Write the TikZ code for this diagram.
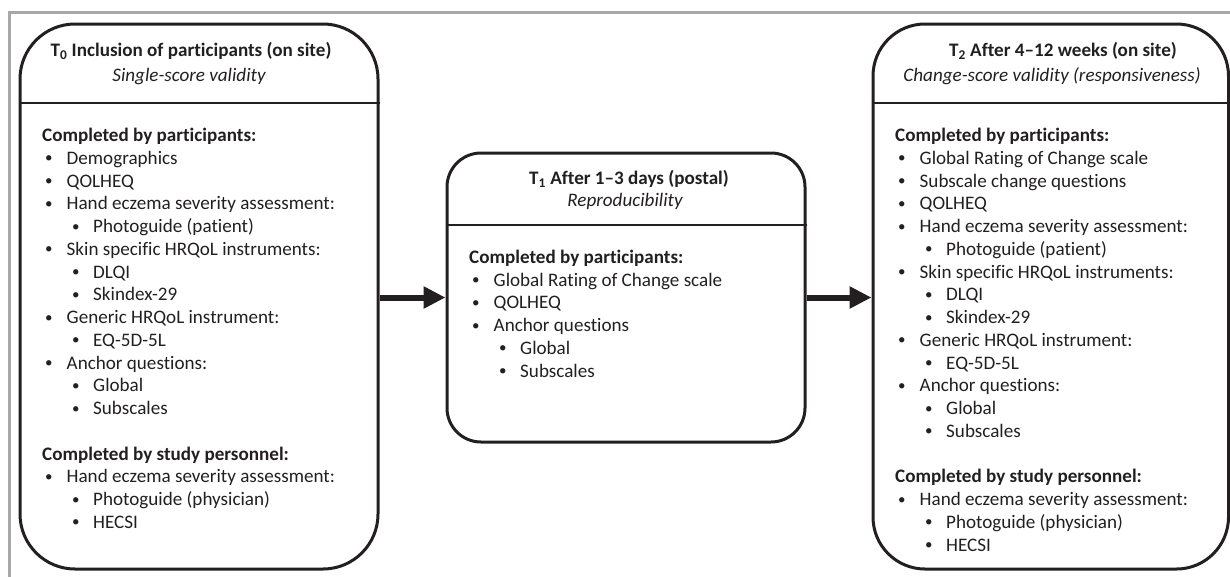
\documentclass[tikz,border=0pt]{standalone}
\usepackage{fontspec}
\setmainfont{Carlito}[Ligatures={TeX,NoCommon}]
\usetikzlibrary{arrows.meta}
\definecolor{framegray}{HTML}{A8A8A8}
\definecolor{ink}{HTML}{231F20}
\tikzset{
  box/.style={draw=ink, line width=3pt, inner sep=0pt},
  divider/.style={draw=ink, line width=2pt},
  txt/.style={anchor=base west, inner sep=0pt, text=ink, font=\fontsize{19.1}{22.75}\selectfont},
  bhead/.style={txt, font=\fontsize{19.1}{22.75}\selectfont\bfseries},
  ttl/.style={anchor=base, inner sep=0pt, text=ink, font=\fontsize{19.1}{22.75}\selectfont\bfseries},
  subttl/.style={anchor=base, inner sep=0pt, text=ink, font=\fontsize{19.1}{22.75}\selectfont\itshape},
  flow/.style={draw=ink, line width=6pt, -{Triangle[length=22pt,width=21pt]}},
}
\newcommand\smbul{\raisebox{1.4pt}{\fontsize{15}{15}\selectfont •}}
\newcommand\bodyhead[5]{\node[bhead] (#1) at ({#2},{#3+22.75*#4}) {#5};}
\newcommand\itemA[5]{\node[txt] (#1) at ({#2+3},{#3+22.75*#4}) {\makebox[21.5pt][l]{\smbul}#5};}
\newcommand\itemB[5]{\node[txt] (#1) at ({#2+30},{#3+22.75*#4}) {\makebox[21pt][l]{\smbul}#5};}
\begin{document}
\begin{tikzpicture}[x=1pt,y=-1pt]
\useasboundingbox (0,0) rectangle (1230,576);
% outer frame
\draw[framegray, line width=2.5pt] (9.5,580) -- (9.5,12.5) -- (1240,12.5);

% boxes
\node[box, rounded corners=55pt, minimum width=358pt, minimum height=545pt] (b0) at (199,296.5) {};
\node[box, rounded corners=34pt, minimum width=358pt, minimum height=289pt] (b1) at (626,297.5) {};
\node[box, rounded corners=52pt, minimum width=355.5pt, minimum height=545pt] (b2) at (1050.75,296.5) {};

\draw[divider] (b0.west |- 0,103) -- (b0.east |- 0,103);
\draw[divider] (b1.west |- 0,225) -- (b1.east |- 0,225);
\draw[divider] (b2.west |- 0,103) -- (b2.east |- 0,103);

% arrows
\draw[flow] (b0.east |- b1.west) -- (b1.west);
\draw[flow] (b1.east) -- (b2.west |- b1.east);

% titles
\node[ttl] (t0) at (191,56.5) {T\textsubscript{0} Inclusion of participants (on site)};
\node[subttl] (s0) at (189,81) {Single-score validity};
\node[ttl] (t1) at (629,184) {T\textsubscript{1} After 1–3 days (postal)};
\node[subttl] (s1) at (625,206.7) {Reproducibility};
\node[ttl] (t2) at (1063,56.5) {T\textsubscript{2} After 4–12 weeks (on site)};
\node[subttl] (s2) at (1052,81) {Change-score validity (responsiveness)};

% left body
\bodyhead{l0}{42}{141.5}{0}{Completed by participants:}
\itemA{l1}{42}{141.5}{1}{Demographics}
\itemA{l2}{42}{141.5}{2}{QOLHEQ}
\itemA{l3}{42}{141.5}{3}{Hand eczema severity assessment:}
\itemB{l4}{42}{141.5}{4}{Photoguide (patient)}
\itemA{l5}{42}{141.5}{5}{Skin specific HRQoL instruments:}
\itemB{l6}{42}{141.5}{6}{DLQI}
\itemB{l7}{42}{141.5}{7}{Skindex-29}
\itemA{l8}{42}{141.5}{8}{Generic HRQoL instrument:}
\itemB{l9}{42}{141.5}{9}{EQ-5D-5L}
\itemA{l10}{42}{141.5}{10}{Anchor questions:}
\itemB{l11}{42}{141.5}{11}{Global}
\itemB{l12}{42}{141.5}{12}{Subscales}
\bodyhead{l14}{42}{141.5}{14}{Completed by study personnel:}
\itemA{l15}{42}{141.5}{15}{Hand eczema severity assessment:}
\itemB{l16}{42}{141.5}{16}{Photoguide (physician)}
\itemB{l17}{42}{141.5}{17}{HECSI}

% middle body
\bodyhead{m0}{469}{263.3}{0}{Completed by participants:}
\itemA{m1}{469}{263.3}{1}{Global Rating of Change scale}
\itemA{m2}{469}{263.3}{2}{QOLHEQ}
\itemA{m3}{469}{263.3}{3}{Anchor questions}
\itemB{m4}{469}{263.3}{4}{Global}
\itemB{m5}{469}{263.3}{5}{Subscales}

% right body
\bodyhead{r0}{895}{141.5}{0}{Completed by participants:}
\itemA{r1}{895}{141.5}{1}{Global Rating of Change scale}
\itemA{r2}{895}{141.5}{2}{Subscale change questions}
\itemA{r3}{895}{141.5}{3}{QOLHEQ}
\itemA{r4}{895}{141.5}{4}{Hand eczema severity assessment:}
\itemB{r5}{895}{141.5}{5}{Photoguide (patient)}
\itemA{r6}{895}{141.5}{6}{Skin specific HRQoL instruments:}
\itemB{r7}{895}{141.5}{7}{DLQI}
\itemB{r8}{895}{141.5}{8}{Skindex-29}
\itemA{r9}{895}{141.5}{9}{Generic HRQoL instrument:}
\itemB{r10}{895}{141.5}{10}{EQ-5D-5L}
\itemA{r11}{895}{141.5}{11}{Anchor questions:}
\itemB{r12}{895}{141.5}{12}{Global}
\itemB{r13}{895}{141.5}{13}{Subscales}
\bodyhead{r15}{895}{141.5}{15}{Completed by study personnel:}
\itemA{r16}{895}{141.5}{16}{Hand eczema severity assessment:}
\itemB{r17}{895}{141.5}{17}{Photoguide (physician)}
\itemB{r18}{895}{141.5}{18}{HECSI}
\end{tikzpicture}
\end{document}
